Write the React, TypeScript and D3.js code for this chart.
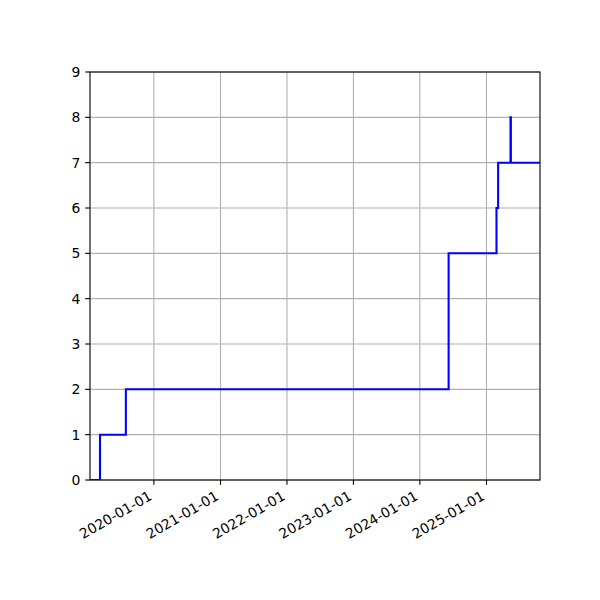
import React, { useEffect } from 'react';
import * as d3 from 'd3';

// step data (value holds until next date)
const dates = [
  '2019-01-15',
  '2019-03-11',
  '2019-07-31',
  '2024-06-07',
  '2025-02-25',
  '2025-03-06',
  '2025-05-13',
  '2025-05-15',
  '2025-10-22',
];
const counts = [0, 1, 2, 5, 6, 7, 8, 7, 7];

const xTickLabels = ['2020-01-01', '2021-01-01', '2022-01-01', '2023-01-01', '2024-01-01', '2025-01-01'];
const yTicks = [0, 1, 2, 3, 4, 5, 6, 7, 8, 9];

const W = 600;
const H = 600;
const margin = { left: 90, right: 60, top: 72, bottom: 120 };
const FONT = '"DejaVu Sans", sans-serif';
const FS = 13.9;
const TICK = 4.86;
const PAD = 4.86;

export default function App() {
  useEffect(() => {
    document.body.style.margin = '0';
  }, []);

  const parse = d3.utcParse('%Y-%m-%d');
  const points = dates.map((d, i) => ({ date: parse(d) as Date, value: counts[i] }));

  const x = d3
    .scaleUtc()
    .domain(d3.extent(points, d => d.date) as [Date, Date])
    .range([margin.left, W - margin.right]);
  const y = d3
    .scaleLinear()
    .domain([0, 9])
    .range([H - margin.bottom, margin.top]);

  const line = d3
    .line<{ date: Date; value: number }>()
    .x(d => x(d.date))
    .y(d => y(d.value))
    .curve(d3.curveStepAfter);

  const xTicks = xTickLabels.map(s => ({ date: parse(s) as Date, label: s }));
  const x0 = margin.left;
  const x1 = W - margin.right;
  const y0 = H - margin.bottom;
  const y1 = margin.top;

  // rotated label anchor offsets (bbox top-right at tick)
  const ascent = FS * 0.76;
  const descent = FS * 0.24;

  return (
    <svg width={W} height={H} style={{ display: 'block', background: '#fff' }} fontFamily={FONT}>
      <defs>
        <clipPath id="plot-clip">
          <rect x={x0} y={y1} width={x1 - x0} height={y0 - y1} />
        </clipPath>
      </defs>

      {/* grid */}
      <g stroke="#b0b0b0" strokeWidth={1.1}>
        {xTicks.map(t => (
          <line key={t.label} x1={x(t.date)} x2={x(t.date)} y1={y0} y2={y1} />
        ))}
        {yTicks.map(v => (
          <line key={v} x1={x0} x2={x1} y1={y(v)} y2={y(v)} />
        ))}
      </g>

      {/* spines */}
      <rect x={x0} y={y1} width={x1 - x0} height={y0 - y1} fill="none" stroke="#000" strokeWidth={1.1} />

      <path
        d={line(points) || ''}
        fill="none"
        stroke="#0000ff"
        strokeWidth={2.08}
        strokeLinejoin="miter"
        clipPath="url(#plot-clip)"
      />

      {/* y axis */}
      <g>
        {yTicks.map(v => (
          <g key={v}>
            <line x1={x0 - TICK} x2={x0} y1={y(v)} y2={y(v)} stroke="#000" strokeWidth={1.1} />
            <text
              x={x0 - TICK - PAD}
              y={y(v)}
              textAnchor="end"
              dominantBaseline="central"
              fontSize={FS}
              fill="#000"
            >
              {v}
            </text>
          </g>
        ))}
      </g>

      {/* x axis */}
      <g>
        {xTicks.map(t => {
          const tx = x(t.date);
          const top = y0 + TICK + PAD;
          const ex = tx - 0.5 * descent + 0.8;
          const ey = top + 0.866 * ascent;
          return (
            <g key={t.label}>
              <line x1={tx} x2={tx} y1={y0} y2={y0 + TICK} stroke="#000" strokeWidth={1.1} />
              <text
                transform={`translate(${ex},${ey}) rotate(-30)`}
                textAnchor="end"
                fontSize={FS}
                fill="#000"
              >
                {t.label}
              </text>
            </g>
          );
        })}
      </g>
    </svg>
  );
}
